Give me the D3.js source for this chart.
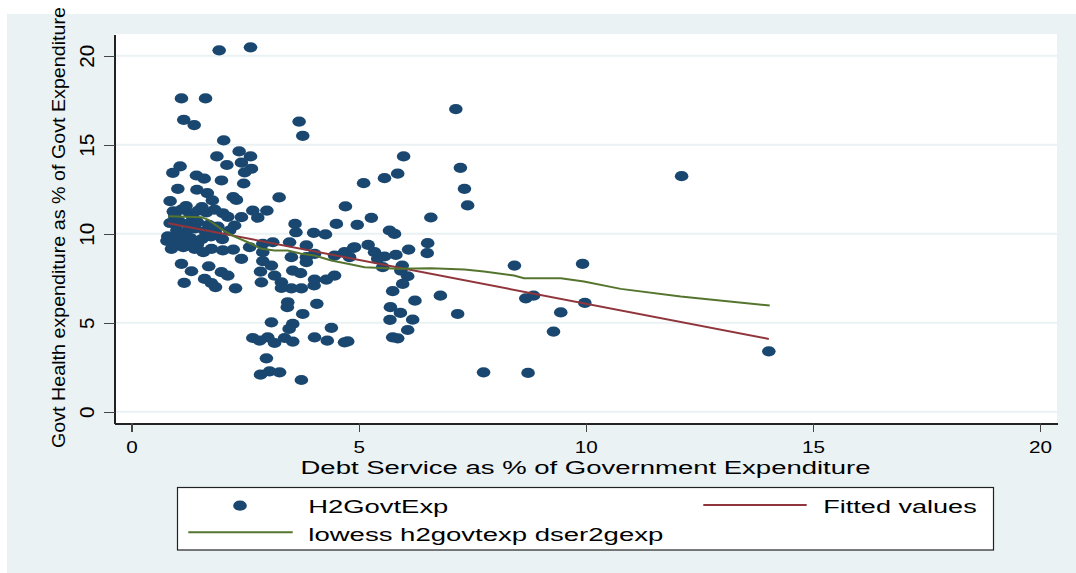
<!DOCTYPE html>
<html>
<head>
<meta charset="utf-8">
<script src="https://cdnjs.cloudflare.com/ajax/libs/d3/7.8.5/d3.min.js"></script>
<style>
  body { margin: 0; background: #ffffff; }
  svg { display: block; }
  text { font-family: "Liberation Sans", Arial, sans-serif; fill: #000; }
</style>
</head>
<body>
<svg id="chart" width="1076" height="573"></svg>
<script>
// Debt service (% of government expenditure) per observation
const debtService = [
  1.93, 2.62, 1.10, 1.63, 7.14,
  1.15, 1.38, 3.69, 3.77, 2.03,
  2.37, 2.62, 1.88, 5.99, 2.42, 2.10, 1.07, 7.24, 2.64, 2.49, 0.91, 5.86, 1.43, 12.11, 5.57, 1.60, 1.98, 5.11, 2.47, 7.33, 1.02, 1.44, 1.67, 2.24, 3.25, 2.31, 1.78, 0.85, 7.40, 4.71,
  0.92, 1.10, 1.28, 1.47, 1.65, 1.83, 2.01, 2.12, 2.67, 2.98, 1.20, 1.55, 0.95, 1.35,
  5.28, 6.59, 2.42, 2.78, 3.60, 4.51, 4.97, 2.27,
  2.16, 5.68, 3.62, 4.01, 5.79, 4.27,
  0.85, 1.05, 1.25, 1.45, 1.70, 1.90, 1.00, 1.20, 1.40, 1.62, 1.85, 0.80, 1.05, 1.30, 1.55, 1.75, 0.78, 0.95, 1.20, 1.45, 2.00,
  0.88, 1.14, 1.39, 1.58, 1.76, 2.01, 2.24, 2.60, 2.42, 2.89, 3.11, 2.89, 3.48, 3.85, 3.52, 3.85, 3.85, 4.03, 4.47, 4.69, 4.91, 4.80, 2.89, 3.08,
  1.10, 1.32, 1.70, 1.98, 2.12, 1.61, 1.76, 1.85, 1.16, 2.29, 2.84, 3.15, 2.86, 3.30, 3.30, 3.55, 3.72, 3.52, 3.74, 4.02, 4.03, 4.29, 4.47,
  4.08, 3.44, 3.43, 3.77, 3.55, 3.47, 3.08, 4.40, 2.67, 2.82, 3.00, 3.15, 3.37, 3.55, 4.03, 4.31, 4.69, 4.76, 2.97, 2.84, 3.04, 3.26, 3.74,
  6.52, 6.51, 6.10, 5.21, 4.89, 5.35, 5.57, 5.82, 5.42, 5.53, 5.96, 5.93, 6.08, 5.97, 5.75, 6.24, 6.80, 5.70, 5.92, 5.69, 6.19, 7.18, 6.08, 5.75, 5.86,
  7.75, 8.73, 8.43, 9.93, 8.68, 8.85, 9.45, 9.29, 9.98, 14.03
];
// Government health expenditure (% of government expenditure), same order
const healthExp = [
  20.30, 20.47, 17.60, 17.60, 17.00,
  16.40, 16.10, 16.30, 15.50, 15.24,
  14.62, 14.34, 14.34, 14.34, 13.99, 13.86, 13.78, 13.70, 13.65, 13.44, 13.42, 13.37, 13.27, 13.23, 13.12, 13.09, 12.99, 12.84, 12.82, 12.52, 12.52, 12.47, 12.28, 12.05, 12.04, 11.90, 11.87, 11.83, 11.59, 11.53,
  11.25, 11.35, 11.15, 11.30, 11.20, 11.35, 11.15, 10.95, 11.30, 11.30, 11.55, 11.50, 11.00, 10.90,
  10.89, 10.91, 10.93, 10.90, 10.55, 10.55, 10.50, 10.46,
  10.18, 10.18, 10.08, 10.05, 9.99, 9.96,
  10.60, 10.70, 10.55, 10.65, 10.50, 10.40, 10.20, 10.10, 10.30, 10.15, 10.05, 9.85, 9.80, 9.75, 9.70, 9.85, 9.60, 9.45, 9.50, 9.40, 9.70,
  9.15, 9.24, 9.15, 8.96, 9.15, 9.06, 9.11, 9.24, 8.59, 9.43, 9.52, 8.96, 9.52, 9.34, 8.68, 8.68, 8.40, 8.87, 8.77, 8.96, 9.24, 8.68, 8.46, 8.21,
  8.31, 7.89, 8.17, 7.84, 7.65, 7.46, 7.22, 7.00, 7.24, 6.93, 7.87, 7.65, 7.27, 7.27, 6.95, 7.93, 7.78, 6.93, 6.93, 7.09, 7.42, 7.42, 7.65,
  6.06, 6.15, 5.87, 5.49, 4.93, 4.65, 5.02, 4.71, 4.14, 3.99, 4.18, 3.86, 4.14, 3.94, 4.18, 3.99, 3.90, 3.95, 3.00, 2.08, 2.27, 2.21, 1.78,
  9.47, 8.91, 9.11, 9.37, 9.20, 8.96, 8.72, 8.81, 8.59, 8.12, 8.21, 7.93, 7.61, 7.18, 6.77, 6.24, 6.52, 5.87, 5.55, 5.16, 5.17, 5.49, 4.59, 4.18, 4.12,
  2.21, 2.18, 8.21, 8.31, 6.37, 6.52, 5.58, 4.50, 6.11, 3.39
];

// Linear fit (fitted values) at the ends of the data range
const fittedX = [0.81, 14.03];
const fittedY = [10.59, 4.09];

// Lowess smooth of health expenditure on debt service
const lowessX = [0.81, 1.54, 1.69, 1.83, 2.05, 2.27, 2.56, 2.86, 3.15, 3.44, 3.74, 4.03, 4.40, 4.76, 5.13, 5.86, 6.59, 7.33, 7.76, 8.42, 8.64, 9.45, 9.96, 10.77, 12.09, 14.05];
const lowessY = [10.98, 10.93, 10.78, 10.52, 10.14, 9.84, 9.52, 9.15, 9.06, 9.06, 8.87, 8.77, 8.49, 8.31, 8.12, 8.03, 8.06, 7.99, 7.87, 7.65, 7.50, 7.50, 7.31, 6.90, 6.47, 5.96];

const xTicks = [0, 5, 10, 15, 20];
const yTicks = [0, 5, 10, 15, 20];

const xTitle = "Debt Service as % of Government Expenditure";
const yTitle = "Govt Health expenditure as % of Govt Expenditure";
const legendLabels = ["H2GovtExp", "Fitted values", "lowess h2govtexp dser2gexp"];

// ---- layout & style ----
const BG = "#eaf2f3";
const NAVY = "#1a476f";
const MAROON = "#90353b";
const GREEN = "#55752f";

const plot = { left: 114.5, right: 1057, top: 34, bottom: 423.3 };

const x = d3.scaleLinear().domain([-0.3742, 20.374]).range([plot.left, plot.right]);
const y = d3.scaleLinear().domain([-0.6517, 21.219]).range([plot.bottom, plot.top]);

const svg = d3.select("#chart");

// outer graph region
svg.append("rect").attr("x", 7).attr("y", 14).attr("width", 1069).attr("height", 559).attr("fill", BG);
// plot region
svg.append("rect")
  .attr("x", plot.left).attr("y", plot.top)
  .attr("width", plot.right - plot.left).attr("height", plot.bottom - plot.top)
  .attr("fill", "#ffffff");

// horizontal grid lines
svg.append("g").selectAll("line").data(yTicks).join("line")
  .attr("x1", plot.left).attr("x2", plot.right)
  .attr("y1", d => y(d)).attr("y2", d => y(d))
  .attr("stroke", BG).attr("stroke-width", 2);

// scatter points
const points = debtService.map((d, i) => ({ x: d, y: healthExp[i] }));
svg.append("g").selectAll("ellipse").data(points).join("ellipse")
  .attr("cx", d => x(d.x)).attr("cy", d => y(d.y))
  .attr("rx", 6.8).attr("ry", 5.1)
  .attr("fill", NAVY);

const line = d3.line().x(d => x(d[0])).y(d => y(d[1]));

// fitted values
svg.append("path")
  .datum(fittedX.map((d, i) => [d, fittedY[i]]))
  .attr("d", line).attr("fill", "none")
  .attr("stroke", MAROON).attr("stroke-width", 2);

// lowess curve
svg.append("path")
  .datum(lowessX.map((d, i) => [d, lowessY[i]]))
  .attr("d", line).attr("fill", "none")
  .attr("stroke", GREEN).attr("stroke-width", 2);

// x axis
const xAxis = svg.append("g")
  .attr("transform", `translate(0,${plot.bottom})`)
  .call(d3.axisBottom(x).tickValues(xTicks).tickSize(9).tickSizeOuter(0).tickFormat(d3.format("d")));
xAxis.select(".domain").attr("stroke", "#222").attr("stroke-width", 1.5);
xAxis.selectAll(".tick line").attr("stroke", "#444").attr("stroke-width", 1.2);
xAxis.selectAll(".tick text")
  .attr("y", 30).attr("dy", 0)
  .attr("font-size", 16.5)
  .attr("textLength", d => String(d).length * 11.5)
  .attr("lengthAdjust", "spacingAndGlyphs")
  .attr("fill", "#000");

// y axis
const yAxis = svg.append("g")
  .attr("transform", `translate(${plot.left},0)`)
  .call(d3.axisLeft(y).tickValues(yTicks).tickSize(11).tickSizeOuter(0).tickFormat(d3.format("d")));
yAxis.select(".domain").attr("stroke", "#222").attr("stroke-width", 1.5);
yAxis.selectAll(".tick line").attr("stroke", "#444").attr("stroke-width", 1.2);
yAxis.selectAll(".tick text")
  .attr("x", 0).attr("dy", 0)
  .attr("transform", "translate(-20.5,0) rotate(-90)")
  .attr("text-anchor", "middle")
  .attr("font-size", 19.5)
  .attr("textLength", d => String(d).length * 11.5)
  .attr("lengthAdjust", "spacingAndGlyphs")
  .attr("fill", "#000");
svg.selectAll(".domain, .tick line").attr("shape-rendering", "crispEdges");

// axis titles
svg.append("text")
  .attr("x", 585.5).attr("y", 473.5)
  .attr("text-anchor", "middle")
  .attr("font-size", 17.5)
  .attr("textLength", 570).attr("lengthAdjust", "spacingAndGlyphs")
  .text(xTitle);

svg.append("text")
  .attr("transform", "translate(65,227.5) rotate(-90)")
  .attr("text-anchor", "middle")
  .attr("font-size", 19)
  .attr("textLength", 441).attr("lengthAdjust", "spacingAndGlyphs")
  .text(yTitle);

// legend
const lg = svg.append("g");
lg.append("rect")
  .attr("x", 177.5).attr("y", 487.5).attr("width", 816).attr("height", 62.5)
  .attr("fill", "#ffffff").attr("stroke", "#222").attr("stroke-width", 1.2);

lg.append("ellipse").attr("cx", 240).attr("cy", 505.7).attr("rx", 6.8).attr("ry", 5.1).attr("fill", NAVY);
lg.append("text").attr("x", 308.3).attr("y", 513.3).attr("font-size", 17.5)
  .attr("textLength", 140).attr("lengthAdjust", "spacingAndGlyphs").text(legendLabels[0]);

lg.append("line").attr("x1", 703.3).attr("x2", 806.7).attr("y1", 505).attr("y2", 505)
  .attr("stroke", MAROON).attr("stroke-width", 2);
lg.append("text").attr("x", 823.3).attr("y", 513.3).attr("font-size", 17.5)
  .attr("textLength", 153.4).attr("lengthAdjust", "spacingAndGlyphs").text(legendLabels[1]);

lg.append("line").attr("x1", 188.3).attr("x2", 292.7).attr("y1", 532.3).attr("y2", 532.3)
  .attr("stroke", GREEN).attr("stroke-width", 2);
lg.append("text").attr("x", 308.3).attr("y", 541).attr("font-size", 17.5)
  .attr("textLength", 355).attr("lengthAdjust", "spacingAndGlyphs").text(legendLabels[2]);
</script>
</body>
</html>
